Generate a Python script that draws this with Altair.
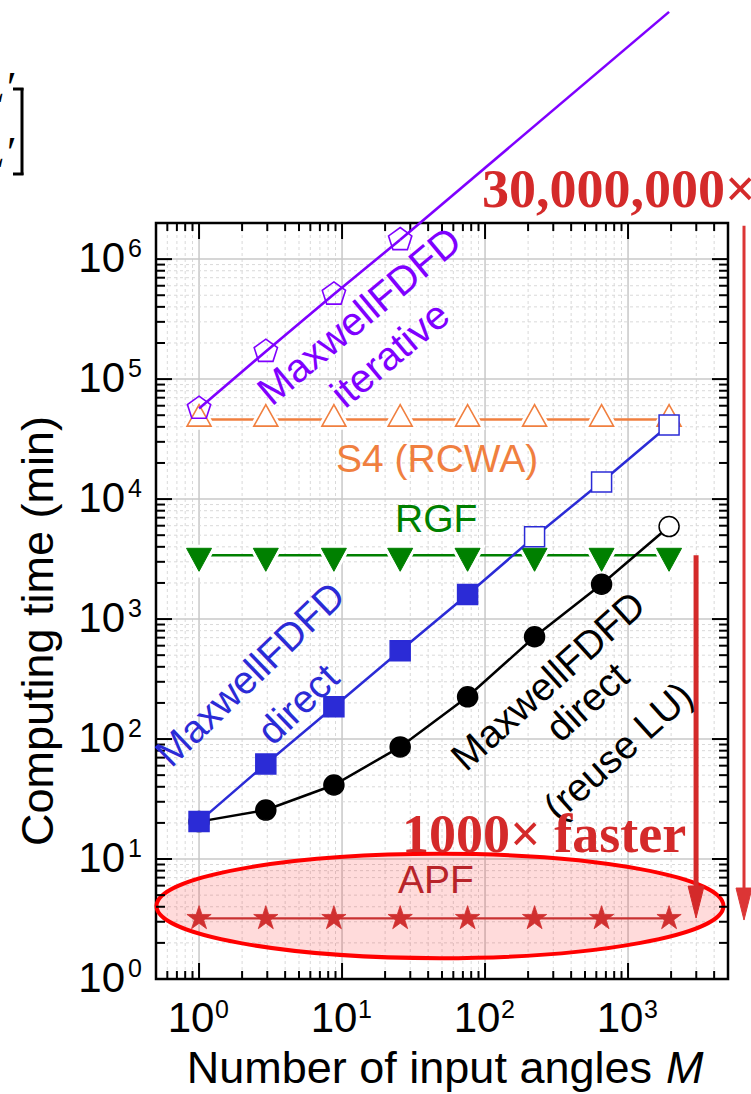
import altair as alt
import pandas as pd

# ---------------- data ----------------
M = [1, 2.93, 8.77, 25.5, 75.5, 222, 653, 1936]
iter_M = [1, 2.93, 8.77, 25.5]
iter_t = [5.7e4, 1.7e5, 5.1e5, 1.45e6]
iter_ext_M = [25.5, 1936]
iter_ext_t = [1.45e6, 1.15e8]
s4_t = [4.6e4] * 8
rgf_t = [3.4e3] * 8
direct_t = [20.5, 62, 186, 545, 1600, 4850, 13900, 41500]
direct_open = [False] * 5 + [True] * 3
reuse_t = [20.5, 25.6, 41.4, 86, 225, 712, 1950, 5900]
reuse_open = [False] * 7 + [True]
apf_t = [3.2] * 8

x_major = [1, 10, 100, 1000]
x_exp = ["0", "1", "2", "3"]
x_minor = [0.5, 0.6, 0.7, 0.8, 0.9] + [k * 10 ** e for e in range(0, 3) for k in range(2, 10)] + [2000, 3000, 4000, 5000]
y_major = [1, 10, 100, 1e3, 1e4, 1e5, 1e6]
y_exp = ["0", "1", "2", "3", "4", "5", "6"]
y_minor = [k * 10 ** e for e in range(0, 6) for k in range(2, 10)] + [2e6]

W, H = 572, 756
PURPLE = "#7F00FF"
ORANGE = "#F07F3F"
GREEN = "#008000"
BLUE = "#2B2BD6"
RED = "#D42A2A"
SANS = "Liberation Sans"
SERIF = "Liberation Serif"

xs = alt.Scale(type="log", domain=[0.5, 5000], nice=False)
ys = alt.Scale(type="log", domain=[1, 2e6], nice=False)


def XY(c, xf="M", yf="t"):
    return c.encode(x=alt.X(f"{xf}:Q", scale=xs, axis=None),
                    y=alt.Y(f"{yf}:Q", scale=ys, axis=None))


layers = []

# ---- grid ----
for vals, dash, col, sw in [(x_minor, [3, 3], "#d9d9d9", 1), (x_major, [], "#c8c8c8", 1.5)]:
    layers.append(alt.Chart(pd.DataFrame({"v": vals})).mark_rule(color=col, strokeWidth=sw, strokeDash=dash)
                  .encode(x=alt.X("v:Q", scale=xs, axis=None), y=alt.value(0), y2=alt.value(H)))
for vals, dash, col, sw in [(y_minor, [3, 3], "#d9d9d9", 1), (y_major, [], "#c8c8c8", 1.5)]:
    layers.append(alt.Chart(pd.DataFrame({"v": vals})).mark_rule(color=col, strokeWidth=sw, strokeDash=dash)
                  .encode(y=alt.Y("v:Q", scale=ys, axis=None), x=alt.value(0), x2=alt.value(W)))

# ---- frame ----
one = pd.DataFrame({"a": [0]})
layers.append(alt.Chart(one).mark_rect(fill="transparent", stroke="black", strokeWidth=2.5).encode(
    x=alt.value(0), x2=alt.value(W), y=alt.value(0), y2=alt.value(H)))

# ---- APF ellipse ----
b = 0.184
k = 0.5523
ell = (f"M -1 0 C -1 {-k*b:.4f} {-k:.4f} {-b} 0 {-b} C {k:.4f} {-b} 1 {-k*b:.4f} 1 0 "
       f"C 1 {k*b:.4f} {k:.4f} {b} 0 {b} C {-k:.4f} {b} -1 {k*b:.4f} -1 0 Z")
layers.append(XY(alt.Chart(pd.DataFrame({"M": [48.4], "t": [4.06]})).mark_point(
    shape=ell, size=567 ** 2, filled=True, fill="#FF0000", fillOpacity=0.14,
    stroke="#FF0000", strokeWidth=4, strokeOpacity=1, opacity=1)))

# ---- ticks (inward, four sides) ----
def xticks(vals, length):
    d = pd.DataFrame({"v": vals})
    out = []
    for y0, y1 in [(0, length), (H, H - length)]:
        out.append(alt.Chart(d).mark_rule(color="black", strokeWidth=2)
                   .encode(x=alt.X("v:Q", scale=xs, axis=None), y=alt.value(y0), y2=alt.value(y1)))
    return out


def yticks(vals, length):
    d = pd.DataFrame({"v": vals})
    out = []
    for x0, x1 in [(0, length), (W, W - length)]:
        out.append(alt.Chart(d).mark_rule(color="black", strokeWidth=2)
                   .encode(y=alt.Y("v:Q", scale=ys, axis=None), x=alt.value(x0), x2=alt.value(x1)))
    return out


layers += xticks(x_minor, 8) + xticks(x_major, 16) + yticks(y_minor, 9) + yticks(y_major, 16)

# ---- series ----
df_iter = pd.DataFrame({"M": iter_M, "t": iter_t})
df_iter_ext = pd.DataFrame({"M": iter_ext_M, "t": iter_ext_t})
df_s4 = pd.DataFrame({"M": M, "t": s4_t})
df_rgf = pd.DataFrame({"M": M, "t": rgf_t})
df_dir = pd.DataFrame({"M": M, "t": direct_t, "open": direct_open})
df_reu = pd.DataFrame({"M": M, "t": reuse_t, "open": reuse_open})
df_apf = pd.DataFrame({"M": M, "t": apf_t})

TRI_UP = "M 0 -1.25 L 1 0.55 L -1 0.55 Z"
TRI_DN = "M -1 -0.56 L 1 -0.56 L 0 1.28 Z"
PENT = "M 0 -1 L 0.951 -0.309 L 0.588 0.809 L -0.588 0.809 L -0.951 -0.309 Z"
STAR = ("M 0 -1 L 0.2245 -0.309 L 0.9511 -0.309 L 0.3633 0.118 L 0.5878 0.809 L 0 0.382 "
        "L -0.5878 0.809 L -0.3633 0.118 L -0.9511 -0.309 L -0.2245 -0.309 Z")

# lines
layers.append(XY(alt.Chart(df_s4).mark_line(color=ORANGE, strokeWidth=2.5)))
layers.append(XY(alt.Chart(df_rgf).mark_line(color=GREEN, strokeWidth=2.5)))
layers.append(XY(alt.Chart(df_apf).mark_line(color="#C83232", strokeWidth=2.2)))
# halos (gaps around markers)
layers.append(XY(alt.Chart(df_s4).mark_point(shape=TRI_UP, size=576, filled=True, fill="white",
                                              stroke="white", strokeWidth=7, opacity=1)))
layers.append(XY(alt.Chart(df_rgf).mark_point(shape=TRI_DN, size=625, filled=True, fill="white",
                                               stroke="white", strokeWidth=7, opacity=1)))
layers.append(XY(alt.Chart(df_s4).mark_point(shape=TRI_UP, size=576, filled=True, fill="white",
                                              stroke=ORANGE, strokeWidth=1.6, opacity=1)))
layers.append(XY(alt.Chart(df_rgf).mark_point(shape=TRI_DN, size=625, filled=True, fill=GREEN,
                                               stroke=GREEN, strokeWidth=1, opacity=1)))
# iterative
layers.append(XY(alt.Chart(df_iter).mark_line(color=PURPLE, strokeWidth=2.6)))
layers.append(XY(alt.Chart(df_iter_ext).mark_line(color=PURPLE, strokeWidth=2.6, clip=False)))
layers.append(XY(alt.Chart(df_iter).mark_point(shape=PENT, size=600, filled=False, color=PURPLE,
                                                strokeWidth=1.6, opacity=1)))
# reuse LU (black)
layers.append(XY(alt.Chart(df_reu).mark_line(color="black", strokeWidth=2.5)))
layers.append(XY(alt.Chart(df_reu).mark_point(shape="circle", size=400, filled=True, stroke="black",
                                               strokeWidth=1.5, opacity=1))
              .encode(fill=alt.condition("datum.open", alt.value("white"), alt.value("black"))))
# direct (blue)
layers.append(XY(alt.Chart(df_dir).mark_line(color=BLUE, strokeWidth=2.5)))
layers.append(XY(alt.Chart(df_dir).mark_point(shape="square", size=400, filled=True, stroke=BLUE,
                                               strokeWidth=1.5, opacity=1))
              .encode(fill=alt.condition("datum.open", alt.value("white"), alt.value(BLUE))))
# APF stars
layers.append(XY(alt.Chart(df_apf).mark_point(shape=STAR, size=650, filled=True, fill="#D03030",
                                               stroke="#D03030", strokeWidth=0.8, opacity=1)))

# ---- arrows ----
ARROW_HEAD = "M -0.5 -2 L 0.5 -2 L 0 0 Z"
df_arr = pd.DataFrame({"M": [2990], "t": [3400], "t2": [5.5]})
layers.append(alt.Chart(df_arr).mark_rule(color=RED, strokeWidth=5).encode(
    x=alt.X("M:Q", scale=xs, axis=None), y=alt.Y("t:Q", scale=ys, axis=None), y2="t2:Q"))
layers.append(XY(alt.Chart(pd.DataFrame({"M": [2990], "t": [3.22]})).mark_point(
    shape=ARROW_HEAD, size=1024, filled=True, fill=RED, stroke=RED, strokeWidth=1, opacity=1)))
df_arr2 = pd.DataFrame({"M": [6470], "t": [1.9e6], "t2": [5.5]})
layers.append(alt.Chart(df_arr2).mark_rule(color="#DC3535", strokeWidth=3, clip=False).encode(
    x=alt.X("M:Q", scale=xs, axis=None), y=alt.Y("t:Q", scale=ys, axis=None), y2="t2:Q"))
layers.append(XY(alt.Chart(pd.DataFrame({"M": [6470], "t": [3.1]})).mark_point(
    shape=ARROW_HEAD, size=1024, filled=True, fill="#DC3535", stroke="#DC3535", strokeWidth=1,
    opacity=1, clip=False)))

# ---- annotation texts ----
def note(text, m, t, color, size=39, angle=0, font=SANS, weight="normal", align="center",
         baseline="middle", style="normal"):
    c = alt.Chart(pd.DataFrame({"M": [m], "t": [t], "s": [text]})).mark_text(
        color=color, fontSize=size, font=font, fontWeight=weight, align=align, baseline=baseline,
        angle=angle, fontStyle=style)
    return XY(c).encode(text="s:N")


layers += [
    note("MaxwellFDFD", 13.4, 3.29e5, PURPLE, size=40, angle=320),
    note("iterative", 22.0, 1.58e5, PURPLE, size=40, angle=320),
    note("S4 (RCWA)", 46.2, 2.1e4, ORANGE),
    note("RGF", 45.6, 6.7e3, GREEN),
    note("MaxwellFDFD", 2.31, 341, BLUE, angle=316),
    note("direct", 5.0, 192, BLUE, angle=316),
    note("MaxwellFDFD", 280, 299, "black", angle=318),
    note("direct", 525, 200, "black", angle=318),
    note("(reuse LU)", 865, 78, "black", angle=318),
    note("APF", 45.4, 6.5, "#B8242A"),
    note("1000\u00d7 faster", 259, 11.4, RED, size=54, font=SERIF, weight="bold", baseline="alphabetic"),
    note("30,000,000\u00d7", 95.3, 2.71e6, RED, size=54, font=SERIF, weight="bold",
         align="left", baseline="alphabetic"),
]

# ---- tick labels ----
dxl = pd.DataFrame({"v": x_major, "e": x_exp, "b": ["10"] * 4})
layers.append(alt.Chart(dxl).mark_text(fontSize=42, font=SANS, align="center", baseline="alphabetic",
                                       dx=-8, color="black")
              .encode(x=alt.X("v:Q", scale=xs, axis=None), y=alt.value(H + 53), text="b:N"))
layers.append(alt.Chart(dxl).mark_text(fontSize=25, font=SANS, align="left", baseline="alphabetic",
                                       dx=16, color="black")
              .encode(x=alt.X("v:Q", scale=xs, axis=None), y=alt.value(H + 39), text="e:N"))
dyl = pd.DataFrame({"v": y_major, "e": y_exp, "b": ["10"] * 7})
layers.append(alt.Chart(dyl).mark_text(fontSize=42, font=SANS, align="right", baseline="alphabetic",
                                       dy=13, color="black")
              .encode(y=alt.Y("v:Q", scale=ys, axis=None), x=alt.value(-31), text="b:N"))
layers.append(alt.Chart(dyl).mark_text(fontSize=25, font=SANS, align="left", baseline="alphabetic",
                                       dy=-2, color="black")
              .encode(y=alt.Y("v:Q", scale=ys, axis=None), x=alt.value(-28), text="e:N"))

# ---- axis titles ----
def pix_text(text, x, y, size, angle=0, align="center", style="normal", font=SANS, baseline="alphabetic"):
    return alt.Chart(pd.DataFrame({"s": [text]})).mark_text(
        fontSize=size, font=font, angle=angle, align=align, baseline=baseline, fontStyle=style,
        color="black").encode(x=alt.value(x), y=alt.value(y), text="s:N")


layers += [
    pix_text("Number of input angles", 496, 1083 - 223, 45, align="right"),
    pix_text("M", 510, 1083 - 223, 45, align="left", style="italic"),
    pix_text("Computing time (min)", 53 - 156, 631 - 223, 45, angle=270, baseline="alphabetic"),
]

# ---- fragments of the neighbouring panel (top-left) ----
layers += [
    pix_text("L\u2032", 14 - 156, 102 - 223, 44, align="right", style="italic", font=SERIF),
    pix_text("L\u2032", 14 - 156, 167 - 223, 44, align="right", style="italic", font=SERIF),
]
layers += [
    alt.Chart(one).mark_rule(color="black", strokeWidth=3).encode(
        x=alt.value(22 - 156), y=alt.value(88 - 223), y2=alt.value(175 - 223)),
    alt.Chart(one).mark_rule(color="black", strokeWidth=3).encode(
        x=alt.value(13 - 156), x2=alt.value(23.5 - 156), y=alt.value(89 - 223)),
    alt.Chart(one).mark_rule(color="black", strokeWidth=3).encode(
        x=alt.value(13 - 156), x2=alt.value(23.5 - 156), y=alt.value(174 - 223)),
]

chart = alt.layer(*layers).properties(
    width=W, height=H,
    autosize=alt.AutoSizeParams(type="none"),
    padding={"left": 156, "top": 223, "right": 23, "bottom": 115},
).configure_view(stroke=None)

chart.save("out.html", embed_options={"renderer": "svg", "actions": False})
